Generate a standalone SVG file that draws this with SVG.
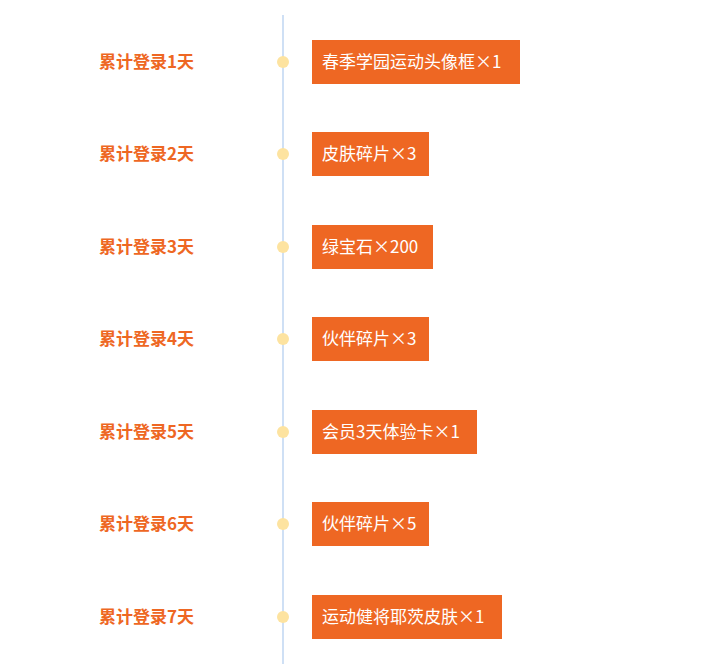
<svg xmlns="http://www.w3.org/2000/svg" width="707" height="664" viewBox="0 0 707 664">
<style>
.l{font-family:"Noto Sans CJK SC","Liberation Sans",sans-serif;font-size:17px;font-weight:bold;fill:#ee6723}
.t{font-family:"Noto Sans CJK SC","Liberation Sans",sans-serif;font-size:17px;fill:#fff}
.b{fill:#ee6723}
.d{fill:#fde3a0}
</style>
<rect width="707" height="664" fill="#fff"/>
<g id="connectors"><line x1="283" y1="15" x2="283" y2="664" stroke="#cfe0f5" stroke-width="2"/></g>
<g id="n1"><text class="l" x="99" y="68">累计登录1天</text><circle class="d" cx="283" cy="62" r="6"/><rect class="b" x="312" y="40" width="208" height="44"/><text class="t" x="322" y="68">春季学园运动头像框×1</text></g>
<g id="n2"><text class="l" x="99" y="160">累计登录2天</text><circle class="d" cx="283" cy="154" r="6"/><rect class="b" x="312" y="132" width="117" height="44"/><text class="t" x="322" y="160">皮肤碎片×3</text></g>
<g id="n3"><text class="l" x="99" y="253">累计登录3天</text><circle class="d" cx="283" cy="247" r="6"/><rect class="b" x="312" y="225" width="121" height="44"/><text class="t" x="322" y="253">绿宝石×200</text></g>
<g id="n4"><text class="l" x="99" y="345">累计登录4天</text><circle class="d" cx="283" cy="339" r="6"/><rect class="b" x="312" y="317" width="117" height="44"/><text class="t" x="322" y="345">伙伴碎片×3</text></g>
<g id="n5"><text class="l" x="99" y="438">累计登录5天</text><circle class="d" cx="283" cy="432" r="6"/><rect class="b" x="312" y="410" width="165" height="44"/><text class="t" x="322" y="438">会员3天体验卡×1</text></g>
<g id="n6"><text class="l" x="99" y="530">累计登录6天</text><circle class="d" cx="283" cy="524" r="6"/><rect class="b" x="312" y="502" width="117" height="44"/><text class="t" x="322" y="530">伙伴碎片×5</text></g>
<g id="n7"><text class="l" x="99" y="623">累计登录7天</text><circle class="d" cx="283" cy="617" r="6"/><rect class="b" x="312" y="595" width="190" height="44"/><text class="t" x="322" y="623">运动健将耶茨皮肤×1</text></g>
</svg>
